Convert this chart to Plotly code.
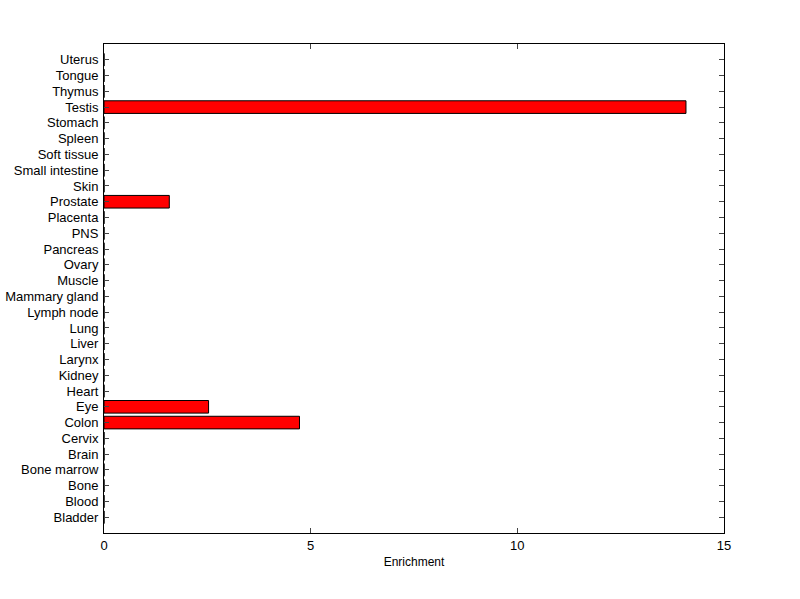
import plotly.graph_objects as go

tissues = ["Bladder", "Blood", "Bone", "Bone marrow", "Brain", "Cervix", "Colon", "Eye",
           "Heart", "Kidney", "Larynx", "Liver", "Lung", "Lymph node", "Mammary gland",
           "Muscle", "Ovary", "Pancreas", "PNS", "Placenta", "Prostate", "Skin",
           "Small intestine", "Soft tissue", "Spleen", "Stomach", "Testis", "Thymus",
           "Tongue", "Uterus"]
enrichment = [0, 0, 0, 0, 0, 0, 4.73, 2.53, 0, 0, 0, 0, 0, 0, 0, 0, 0, 0, 0, 0, 1.58,
              0, 0, 0, 0, 0, 14.08, 0, 0, 0]
positions = list(range(1, len(tissues) + 1))
x_ticks = [0, 5, 10, 15]

fig = go.Figure(go.Bar(
    x=enrichment, y=positions, orientation="h", width=0.8,
    marker=dict(color="#FF0000", line=dict(color="black", width=1)),
    hoverinfo="skip",
))

fig.update_layout(
    width=800, height=599,
    margin=dict(l=104, r=76, t=44, b=66),
    paper_bgcolor="white", plot_bgcolor="white",
    font=dict(family="Liberation Sans, Arial, sans-serif", size=12, color="black"),
    showlegend=False,
    xaxis=dict(range=[0, 15], tickvals=x_ticks, ticks="inside", ticklen=5,
               showline=True, linecolor="black", linewidth=1, mirror="ticks",
               showgrid=False, zeroline=False, automargin=False,
               tickfont=dict(size=13),
               title=dict(text="Enrichment", font=dict(size=12), standoff=6)),
    yaxis=dict(range=[0, 31], tickvals=positions, ticktext=tissues, ticks="inside",
               ticklen=5, showline=True, linecolor="black", linewidth=1, mirror="ticks",
               showgrid=False, zeroline=False, ticklabelstandoff=2, automargin=False,
               tickfont=dict(size=13)),
)

fig.write_html("out.html", config={"displayModeBar": False},
               post_script="document.body.style.margin='0';document.body.style.padding='0';")
